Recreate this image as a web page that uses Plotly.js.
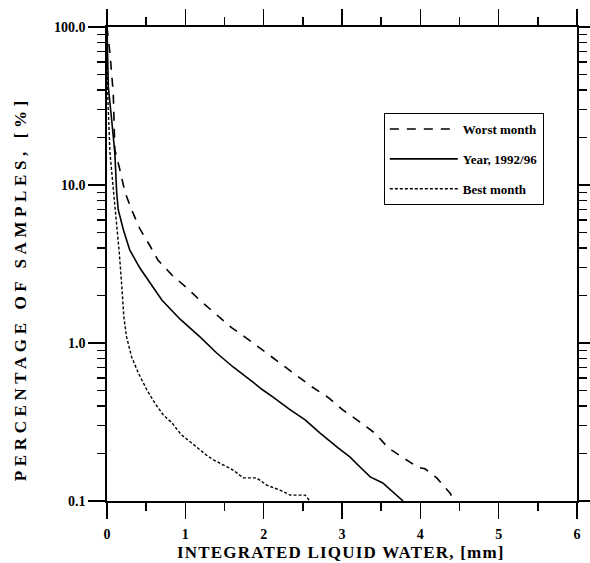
<!DOCTYPE html>
<html>
<head>
<meta charset="utf-8">
<script src="https://cdn.plot.ly/plotly-3.0.1.min.js"></script>
<style>html,body{margin:0;padding:0;background:#fff;}#chart{width:590px;height:563px;}</style>
</head>
<body>
<div id="chart"></div>
<script>
// Worst month
const worstX = [0, 0.038, 0.08, 0.10, 0.166, 0.23, 0.315, 0.42, 0.55, 0.65, 0.83, 1.02, 1.21, 1.40, 1.59, 1.78, 1.99, 2.21, 2.42, 2.61, 2.83, 3.01, 3.23, 3.42, 3.59, 3.78, 3.97, 4.06, 4.21, 4.38, 4.44];
const worstY = [100, 68, 38, 16.7, 12.4, 9.0, 6.95, 5.27, 4.11, 3.35, 2.69, 2.23, 1.82, 1.50, 1.25, 1.075, 0.90, 0.75, 0.63, 0.53, 0.45, 0.377, 0.316, 0.269, 0.217, 0.187, 0.163, 0.160, 0.14, 0.112, 0.1];
// Year, 1992/96
const yearX = [0, 0.017, 0.06, 0.10, 0.124, 0.144, 0.21, 0.29, 0.42, 0.55, 0.70, 0.93, 1.19, 1.40, 1.61, 1.83, 1.99, 2.12, 2.34, 2.53, 2.72, 2.95, 3.10, 3.23, 3.36, 3.52, 3.65, 3.78];
const yearY = [100, 41.7, 25.8, 15.9, 8.9, 6.95, 5.19, 3.88, 2.98, 2.40, 1.87, 1.42, 1.09, 0.864, 0.705, 0.583, 0.504, 0.455, 0.377, 0.326, 0.269, 0.217, 0.190, 0.164, 0.142, 0.130, 0.114, 0.1];
// Best month
const bestX = [0, 0.005, 0.038, 0.08, 0.124, 0.157, 0.19, 0.215, 0.25, 0.315, 0.40, 0.51, 0.61, 0.72, 0.83, 0.95, 1.08, 1.19, 1.27, 1.36, 1.49, 1.61, 1.74, 1.91, 2.04, 2.21, 2.34, 2.53, 2.59];
const bestY = [100, 42, 15.9, 9.7, 6.0, 3.71, 2.26, 1.46, 1.09, 0.815, 0.646, 0.504, 0.417, 0.350, 0.312, 0.262, 0.233, 0.210, 0.195, 0.182, 0.169, 0.157, 0.140, 0.140, 0.126, 0.117, 0.109, 0.109, 0.1];

const seriesNames = ['Worst month', 'Year, 1992/96', 'Best month'];
const xTicks = [0, 1, 2, 3, 4, 5, 6];
const xMinor = [0.5, 1.5, 2.5, 3.5, 4.5, 5.5];
const yTicks = [0.1, 1, 10, 100];
const yTickText = ["0.1", "1.0", "10.0", "100.0"];
const yMinor = [0.2,0.3,0.4,0.5,0.6,0.7,0.8,0.9,2,3,4,5,6,7,8,9,20,30,40,50,60,70,80,90];

const serif = "Liberation Serif, Times New Roman, serif";

const traces = [
  {x: worstX, y: worstY, mode: 'lines', name: seriesNames[0], legendgroup: 'a',
   line: {color: '#000', width: 1.6, dash: '9px,8px'}},
  {x: yearX, y: yearY, mode: 'lines', name: seriesNames[1], legendgroup: 'b',
   line: {color: '#000', width: 1.6}},
  {x: bestX, y: bestY, mode: 'lines', name: seriesNames[2], legendgroup: 'c',
   line: {color: '#000', width: 1.4, dash: '3px,2px'}}
];

const layout = {
  width: 590, height: 563,
  margin: {l: 107, r: 13, t: 27, b: 62},
  paper_bgcolor: '#fff', plot_bgcolor: '#fff',
  showlegend: true,
  legend: {x: 0.589, y: 0.8186, xanchor: 'left', yanchor: 'top',
           bordercolor: '#000', borderwidth: 1, bgcolor: '#fff',
           font: {family: serif, size: 13, color: '#000', weight: 'bold'},
           tracegroupgap: 10, itemwidth: 68},
  xaxis: {range: [0, 6], showgrid: false, zeroline: false,
          showline: true, linecolor: '#000', linewidth: 1.6, mirror: 'ticks',
          ticks: 'outside', ticklen: 16, tickwidth: 1.6, tickcolor: '#000',
          tickmode: 'array', tickvals: xTicks, ticklabelstandoff: 4,
          minor: {tickmode: 'array', tickvals: xMinor, ticks: 'outside', ticklen: 8, tickwidth: 1.4, tickcolor: '#000'},
          tickfont: {family: serif, size: 14, color: '#000', weight: 'bold'}},
  yaxis: {type: 'log', range: [-1, 2], showgrid: false, zeroline: false,
          showline: true, linecolor: '#000', linewidth: 1.6, mirror: 'ticks',
          ticks: 'outside', ticklen: 17, tickwidth: 1.6, tickcolor: '#000',
          tickmode: 'array', tickvals: yTicks, ticktext: yTickText,
          minor: {tickmode: 'array', tickvals: yMinor, ticks: 'outside', ticklen: 8, tickwidth: 1.4, tickcolor: '#000'},
          tickfont: {family: serif, size: 14, color: '#000', weight: 'bold'}},
  annotations: [
    {text: '<span style="letter-spacing:1.2px">INTEGRATED LIQUID WATER, [mm]</span>',
     xref: 'paper', yref: 'paper', x: 0.498, y: -0.108, xanchor: 'center', yanchor: 'middle',
     showarrow: false, font: {family: serif, size: 17, color: '#000', weight: 'bold'}},
    {text: '<span style="letter-spacing:4.6px">PERCENTAGE OF SAMPLES, [%]</span>',
     xref: 'paper', yref: 'paper', x: -0.185, y: 0.447, xanchor: 'center', yanchor: 'middle',
     textangle: -90, showarrow: false, font: {family: serif, size: 17, color: '#000', weight: 'bold'}}
  ]
};

Plotly.newPlot('chart', traces, layout, {staticPlot: true, displayModeBar: false});
</script>
</body>
</html>
